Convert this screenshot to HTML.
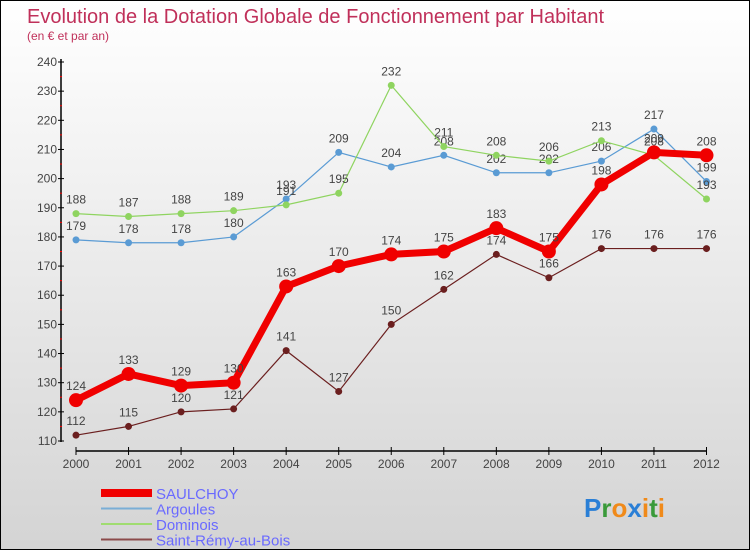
<!DOCTYPE html>
<html><head><meta charset="utf-8"><style>
body{margin:0}
#c{position:relative;width:748px;height:548px;border:1px solid #000;background:linear-gradient(#fff,#d4d4d4);overflow:hidden;font-family:"Liberation Sans",sans-serif}
</style></head><body>
<div id="c">
<svg id="s" width="748" height="548" style="position:absolute;left:0;top:0">
<text x="26" y="22" font-size="20" fill="#c0305a">Evolution de la Dotation Globale de Fonctionnement par Habitant</text>
<text x="26" y="39" font-size="12" fill="#c0305a">(en € et par an)</text>
<g id="axes"></g><g id="plot"></g><g id="legend"></g>
<text x="583" y="516" font-size="26" font-weight="bold"><tspan fill="#2a7fd6">P</tspan><tspan fill="#3a9a3a">r</tspan><tspan fill="#f08a1a">o</tspan><tspan fill="#2a7fd6">x</tspan><tspan fill="#f08a1a">i</tspan><tspan fill="#3a9a3a">t</tspan><tspan fill="#f08a1a">i</tspan></text>
</svg>
</div>
<script>
const years=[2000,2001,2002,2003,2004,2005,2006,2007,2008,2009,2010,2011,2012];
const yTicks=[110,120,130,140,150,160,170,180,190,200,210,220,230,240];
const saulchy=[124,133,129,130,163,170,174,175,183,175,198,209,208];
const argoules=[179,178,178,180,193,209,204,208,202,202,206,217,199];
const dominois=[188,187,188,189,191,195,232,211,208,206,213,208,193];
const stremy=[112,115,120,121,141,127,150,162,174,166,176,176,176];
const NS="http://www.w3.org/2000/svg";
function X(i){return 75+i*(705.5-75)/(years.length-1);}
function Y(v){return 440-(v-110)*(440-61)/130;}
function mk(tag,at,par){const e=document.createElementNS(NS,tag);for(const k in at)e.setAttribute(k,at[k]);par.appendChild(e);return e;}
const ax=document.getElementById('axes');
let l=mk('line',{x1:60,y1:58,x2:60,y2:441,stroke:'#000','stroke-width':1.5},ax);


l=mk('line',{x1:75,y1:450,x2:706,y2:450,stroke:'#000','stroke-width':1.5},ax);


yTicks.forEach((v,i)=>{
  mk('line',{x1:57,x2:63,y1:Y(v),y2:Y(v),stroke:'#000'},ax);
  if(i<yTicks.length-1)mk('line',{x1:59,x2:61,y1:Y(v+5),y2:Y(v+5),stroke:'red'},ax);
  const t=mk('text',{x:56,y:Y(v)+4,'font-size':12,'text-anchor':'end',fill:'#444'},ax);t.textContent=v;
  
  
});
years.forEach((y,i)=>{
  mk('line',{x1:X(i),x2:X(i),y1:446,y2:454,stroke:'#000'},ax);
  const t=mk('text',{x:X(i),y:467,'font-size':12,'text-anchor':'middle',fill:'#444'},ax);t.textContent=y;
  
  
});
const pl=document.getElementById('plot');
const series=[
 {d:stremy,c:'#6b1f1f',w:1.2,r:3.5,n:'saint-remy'},
 {d:argoules,c:'#5a9bd4',w:1.2,r:3.5,n:'argoules'},
 {d:dominois,c:'#8fd460',w:1.2,r:3.5,n:'dominois'},
 {d:saulchy,c:'#f00000',w:7,r:7,n:'saulchoy'}];
series.forEach(s=>{
  const p=mk('polyline',{points:s.d.map((v,i)=>X(i)+','+Y(v)).join(' '),fill:'none',stroke:s.c,'stroke-width':s.w},pl);
  
  
  s.d.forEach((v,i)=>{
    const c=mk('circle',{cx:X(i),cy:Y(v),r:s.r,fill:s.c},pl);
    
    
    const t=mk('text',{x:X(i),y:Y(v)-10,'font-size':12,'text-anchor':'middle',fill:'#444'},pl);t.textContent=v;
    
    
  });
});
const lg=document.getElementById('legend');
const leg=[['SAULCHOY','#f00000',8],['Argoules','#7aaed6',2],['Dominois','#a0dc70',2],['Saint-Rémy-au-Bois','#8b4a4a',2]];
leg.forEach((e,i)=>{
  const y=492+i*15.5;
  const ln=mk('line',{x1:100,x2:151,y1:y,y2:y,stroke:e[1],'stroke-width':e[2]},lg);
  
  
  const t=mk('text',{x:155,y:y+6,'font-size':15,fill:'#6a6aff'},lg);t.textContent=e[0];
  
  
});
</script>
</body></html>
